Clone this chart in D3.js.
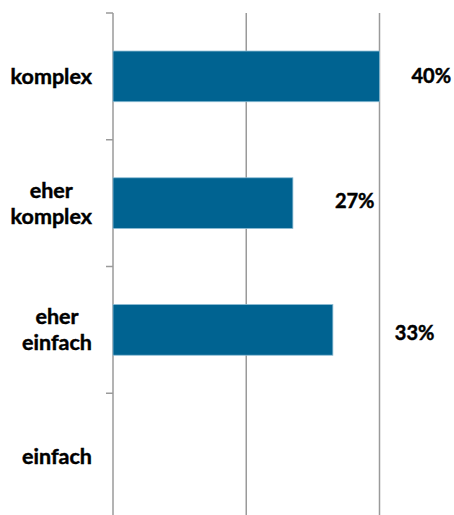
<!DOCTYPE html>
<html>
<head>
<meta charset="utf-8">
<script src="https://cdn.jsdelivr.net/npm/d3@7"></script>
<style>
  html, body { margin: 0; padding: 0; background: #fff; }
  svg { display: block; }
  text { font-family: Lato, "Open Sans", sans-serif; font-weight: bold; fill: #000;
         stroke: #000; stroke-width: 0.45px; }
</style>
</head>
<body>
<svg id="chart" width="454" height="515"></svg>
<script>
// Categories (top to bottom) with line breaks for wrapped labels
const categories = ["komplex", "eher komplex", "eher einfach", "einfach"];
const categoryLines = [["komplex"], ["eher", "komplex"], ["eher", "einfach"], ["einfach"]];
// Share of answers per category (einfach has no bar)
const values = [0.40, 0.27, 0.33, 0];
const valueLabels = ["40%", "27%", "33%", null];
// Gridline positions on the value axis
const gridTicks = [0, 0.2, 0.4];

// Label placement nudges (px) for the value labels
const labelDx = [32, 42, 62, 0];
const labelDy = [0, -2.5, 3, 0];

const svg = d3.select("#chart");

const x = d3.scaleLinear().domain([0, 0.4]).range([113, 379.5]);
const y = d3.scaleBand().domain(categories).range([13, 520])
  .paddingInner(0.6).paddingOuter(0.3);

const gridColor = "#9a9a9a";

// vertical gridlines (0 doubles as the category axis)
svg.append("g").selectAll("line").data(gridTicks).join("line")
  .attr("x1", d => x(d)).attr("x2", d => x(d))
  .attr("y1", 13).attr("y2", 520)
  .attr("stroke", gridColor).attr("stroke-width", 1.5);

// category boundary ticks on the axis
const step = y.step();
const boundaries = d3.range(categories.length + 1).map(i => y.range()[0] + i * step);
svg.append("g").selectAll("line").data(boundaries).join("line")
  .attr("x1", x(0) - 7).attr("x2", x(0))
  .attr("y1", d => d).attr("y2", d => d)
  .attr("stroke", gridColor).attr("stroke-width", 1.5);

// bars
svg.append("g").selectAll("rect").data(categories).join("rect")
  .attr("x", x(0))
  .attr("y", d => y(d))
  .attr("width", (d, i) => x(values[i]) - x(0))
  .attr("height", y.bandwidth())
  .attr("fill", "#006391")
  .attr("stroke", "#8cbcd4")
  .attr("stroke-width", 0.8)
  .attr("display", (d, i) => values[i] > 0 ? null : "none");

// value labels
svg.append("g").selectAll("text").data(categories.filter((d, i) => valueLabels[i])).join("text")
  .attr("x", d => x(values[categories.indexOf(d)]) + labelDx[categories.indexOf(d)])
  .attr("y", d => y(d) + y.bandwidth() / 2 + labelDy[categories.indexOf(d)])
  .attr("dy", "0.35em")
  .attr("font-size", 20)
  .text(d => valueLabels[categories.indexOf(d)]);

// category labels: block right-aligned to the axis, lines centred within it
const fontSize = 21.5;
const lineH = 26;
const labelRight = 92;
const lab = svg.append("g");
categories.forEach((c, i) => {
  const lines = categoryLines[i];
  const g = lab.append("g");
  const cy = y(c) + y.bandwidth() / 2;
  const t = g.selectAll("text").data(lines).join("text")
    .attr("font-size", fontSize)
    .attr("text-anchor", "middle")
    .attr("y", (d, j) => cy + (j - (lines.length - 1) / 2) * lineH)
    .attr("dy", "0.35em")
    .text(d => d);
  const w = d3.max(t.nodes(), n => n.getComputedTextLength());
  t.attr("x", labelRight - w / 2);
});
</script>
</body>
</html>
